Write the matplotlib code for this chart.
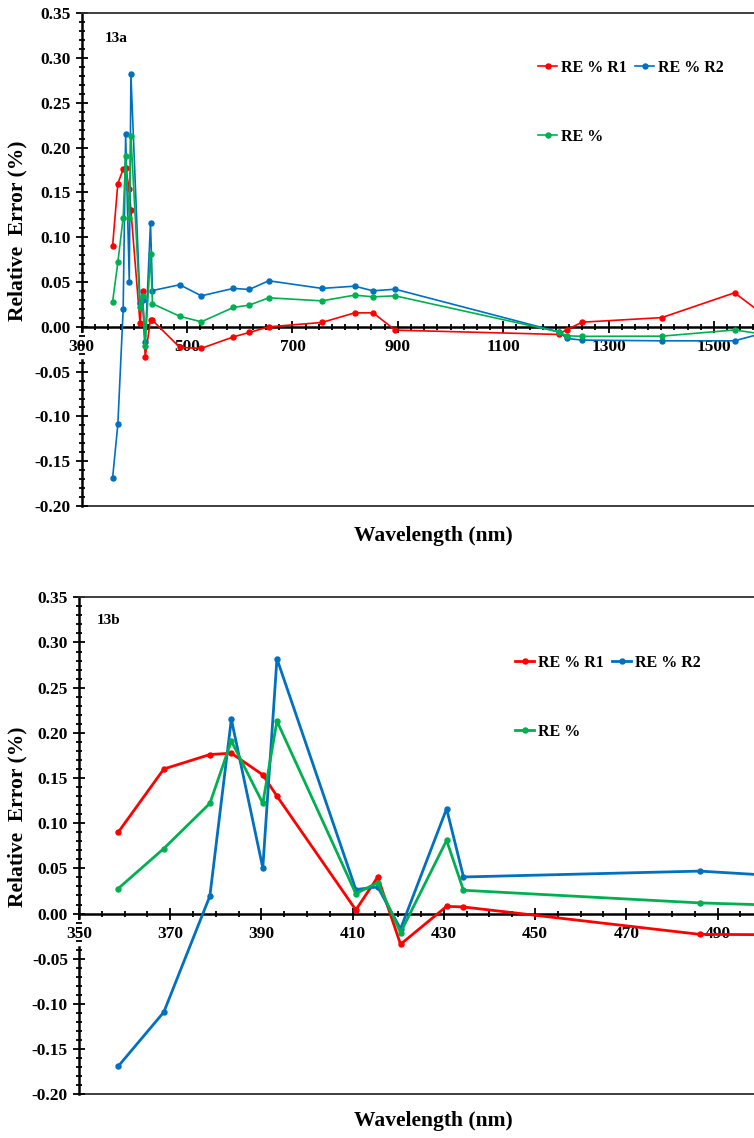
import matplotlib
matplotlib.use("Agg")
import matplotlib.pyplot as plt
from matplotlib.ticker import MultipleLocator, FormatStrFormatter

plt.rcParams['font.family'] = ['Liberation Serif', 'DejaVu Serif']
plt.rcParams['font.weight'] = 'bold'
plt.rcParams['axes.unicode_minus'] = False

# wavelengths (nm) and relative errors
wavelength = [358.6, 368.6, 378.7, 383.4, 390.3, 393.4, 410.7, 415.5, 420.5, 430.6,
              434.3, 486.1, 527.0, 588.0, 618.0, 655.0, 756.0, 818.0, 853.0, 895.0,
              1205.0, 1221.0, 1250.0, 1401.0, 1539.0, 1600.0]
re_r1 = [0.090, 0.160, 0.176, 0.1775, 0.1535, 0.130, 0.004, 0.0405, -0.034, 0.008,
         0.0073, -0.023, -0.024, -0.0112, -0.0063, 0.000, 0.0049, 0.0156, 0.0156, -0.0037,
         -0.0085, -0.003, 0.0052, 0.0103, 0.038, 0.011]
re_r2 = [-0.169, -0.109, 0.0195, 0.215, 0.0505, 0.282, 0.0266, 0.0295, -0.017, 0.116,
         0.0405, 0.047, 0.0346, 0.0429, 0.0417, 0.0514, 0.0429, 0.0454, 0.0402, 0.042,
         -0.0056, -0.013, -0.0148, -0.0156, -0.0156, -0.006]
re_all = [0.0277, 0.072, 0.122, 0.191, 0.122, 0.213, 0.022, 0.0343, -0.021, 0.081,
          0.0258, 0.0118, 0.0056, 0.0217, 0.0242, 0.0324, 0.029, 0.0354, 0.0335, 0.0346,
          -0.0056, -0.010, -0.0106, -0.0104, -0.0035, -0.0087]

series = [("RE % R1", re_r1, "#FF0000"),
          ("RE % R2", re_r2, "#0070C0"),
          ("RE %", re_all, "#00B050")]

W, H = 754, 1138
fig = plt.figure(figsize=(W / 100, H / 100), dpi=100)


def panel(rect, xlim, xmaj, xmin, lw, tag, tag_px, leg_px, xlab_y, ylab_y):
    ax = fig.add_axes(rect)
    handles = []
    for name, vals, col in series:
        h, = ax.plot(wavelength, vals, color=col, lw=lw, marker='o', ms=3.6,
                     mec=col, mfc=col, label=name, zorder=3)
        handles.append(h)
    ax.set_xlim(*xlim)
    ax.set_ylim(-0.20, 0.35)

    ax.spines['bottom'].set_position(('data', 0))
    ax.spines['right'].set_visible(False)
    ax.spines['top'].set_color('#303030')
    ax.spines['top'].set_linewidth(1.3)
    for s in ('left', 'bottom'):
        ax.spines[s].set_linewidth(1.8)
        ax.spines[s].set_zorder(1)
    # the y axis line is broken where the first x label sits
    ax.spines['left'].set_bounds(-0.005, 0.35)
    ax.axvline(xlim[0], ymin=0, ymax=(0.20 - 0.037) / 0.55, color='black',
               lw=1.8, clip_on=False, zorder=1)
    ax.axhline(-0.20, color='#303030', lw=1.3, clip_on=False, zorder=1)

    # ticks start at the left end of the axis (300 / 350)
    ax.xaxis.set_major_locator(MultipleLocator(xmaj, offset=xlim[0] % xmaj))
    ax.xaxis.set_minor_locator(MultipleLocator(xmin, offset=xlim[0] % xmin))
    ax.yaxis.set_major_locator(MultipleLocator(0.05))
    ax.yaxis.set_minor_locator(MultipleLocator(0.01))
    ax.yaxis.set_major_formatter(FormatStrFormatter('%.2f'))
    ax.tick_params(which='both', direction='inout', width=1.3, labelsize=12.5)
    ax.tick_params(which='major', length=8)
    ax.tick_params(which='minor', length=5)
    ax.tick_params(axis='x', pad=5)
    ax.tick_params(axis='y', pad=4)

    ax.text(tag_px[0] / W, 1 - tag_px[1] / H, tag, transform=fig.transFigure,
            fontsize=11, fontweight='bold', ha='left', va='center')

    ax.legend([handles[0], handles[2], handles[1]],
              [series[0][0], series[2][0], series[1][0]],
              ncol=2, loc='upper left', frameon=False,
              bbox_to_anchor=(leg_px[0] / W, 1 - leg_px[1] / H),
              bbox_transform=fig.transFigure, fontsize=11.5, borderpad=0,
              handlelength=1.2, handletextpad=0.25, columnspacing=0.5,
              labelspacing=3.3, borderaxespad=0)

    fig.text(433 / W, 1 - xlab_y / H, "Wavelength (nm)", fontsize=15.5,
             fontweight='bold', ha='center', va='center')
    fig.text(17 / W, 1 - ylab_y / H, "Relative  Error (%)", fontsize=15.5,
             fontweight='bold', ha='center', va='center', rotation=90)
    return ax


panel([81.7 / W, 1 - 506 / H, 1 - 81.7 / W, 492.7 / H], (300, 1576), 200, 25, 1.2,
      "13a", (105, 38), (538, 60), 536, 231)
panel([79 / W, 1 - 1094.3 / H, 1 - 79 / W, 497 / H], (350, 498), 20, 5, 2.0,
      "13b", (97, 620), (515, 655), 1121, 817)

fig.savefig("out.png", dpi=100)
